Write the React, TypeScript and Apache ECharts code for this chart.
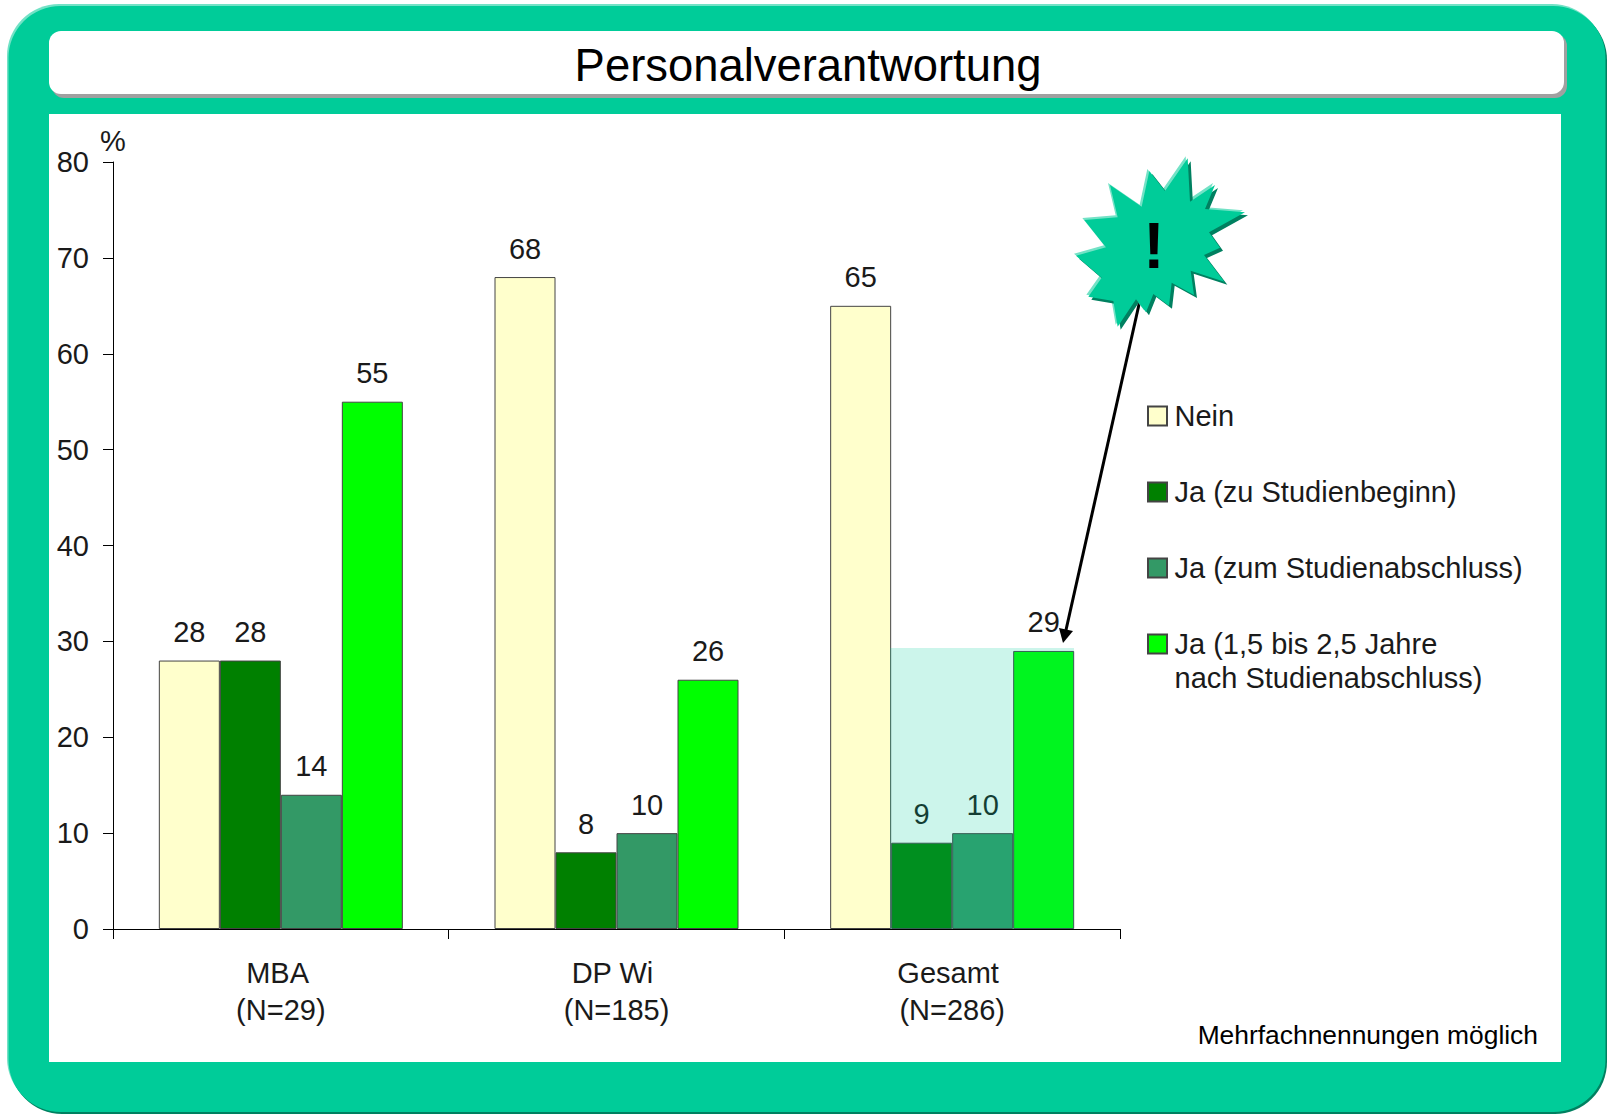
import React, { useEffect, useRef } from "react";
import * as echarts from "echarts";

const categories = ["MBA \n(N=29)", "DP Wi \n(N=185)", "Gesamt \n(N=286)"];
const nein = [28, 68, 65];
const jaBeginn = [28, 8, 9];
const jaAbschluss = [14, 10, 10];
const jaSpaeter = [55, 26, 29];
const seriesNames = [
  "Nein",
  "Ja (zu Studienbeginn)",
  "Ja (zum Studienabschluss)",
  "Ja (1,5 bis 2,5 Jahre\nnach Studienabschluss)",
];
const seriesColors = ["#ffffcc", "#008000", "#339966", "#00ff00"];
const seriesValues = [nein, jaBeginn, jaAbschluss, jaSpaeter];
const title = "Personalverantwortung";
const footnote = "Mehrfachnennungen möglich";

const FONT = '"Liberation Sans", Arial, sans-serif';
const TEAL = "#00cc99";
const INK = "#1a1a1a";

const burstZoom: number[][] = [
  [413, 55], [420, 185], [495, 135], [465, 207], [585, 217], [477, 277], [510, 323],
  [462, 345], [523, 425], [422, 392], [432, 465], [365, 428], [357, 497], [310, 462],
  [288, 517], [258, 478], [203, 560], [190, 483], [115, 470], [155, 413], [78, 347],
  [168, 322], [103, 240], [203, 232], [180, 135], [275, 200], [298, 93], [345, 153],
];
const burst = (dx: number, dy: number) =>
  burstZoom.map(([x, y]) => [1050 + x / 3 + dx, 140 + y / 3 + dy]);

const legendBase = {
  left: 1142,
  orient: "vertical",
  selectedMode: false,
  icon: "rect",
  itemWidth: 19,
  itemHeight: 19,
  itemGap: 42,
  textStyle: { fontSize: 29, lineHeight: 34, color: INK, fontFamily: FONT, padding: [0, 0, 0, 2.5] },
};

export default function App() {
  const ref = useRef<HTMLDivElement>(null);
  useEffect(() => {
    document.body.style.margin = "0";
    document.body.style.background = "#fff";
    const chart = echarts.init(ref.current!, undefined, { renderer: "svg" });
    chart.setOption({
      animation: false,
      backgroundColor: "#fff",
      textStyle: { fontFamily: FONT },
      grid: { left: 113, top: 162, width: 1007, height: 767, containLabel: false },
      xAxis: {
        type: "category",
        data: categories,
        axisLine: { lineStyle: { color: "#000", width: 1 } },
        axisTick: { show: true, length: 10, lineStyle: { color: "#000" } },
        axisLabel: {
          fontSize: 29,
          lineHeight: 37,
          color: INK,
          margin: 25,
          fontFamily: FONT,
          interval: 0,
        },
      },
      yAxis: {
        type: "value",
        min: 0,
        max: 80,
        interval: 10,
        name: "%",
        nameLocation: "end",
        nameGap: 21,
        nameTextStyle: { fontSize: 29, color: INK, fontFamily: FONT, verticalAlign: "middle" },
        splitLine: { show: false },
        axisLine: { show: true, lineStyle: { color: "#000", width: 1 } },
        axisTick: { show: true, length: 10, lineStyle: { color: "#000" } },
        axisLabel: { fontSize: 29, color: INK, margin: 24, fontFamily: FONT },
      },
      legend: [
        { ...legendBase, top: 394, data: seriesNames.slice(0, 3) },
        {
          ...legendBase,
          top: 588,
          data: seriesNames.slice(3),
          formatter: (n: string) => " \n" + n,
        },
      ],
      series: seriesNames.map((name, i) => ({
        name,
        type: "bar",
        data: seriesValues[i],
        barWidth: 61,
        barGap: "0%",
        itemStyle: { color: seriesColors[i], borderColor: "#444", borderWidth: 1 },
        label: {
          show: true,
          position: "top",
          distance: 14,
          fontSize: 29,
          color: INK,
          fontFamily: FONT,
        },
      })),
      graphic: {
        elements: [
          { type: "rect", z: -10, shape: { x: 7, y: 4, width: 1597, height: 1106, r: 52 }, style: { fill: "#73e2c6" } },
          { type: "rect", z: -9, shape: { x: 10, y: 8, width: 1597, height: 1106, r: 52 }, style: { fill: "#008060" } },
          { type: "rect", z: -8, shape: { x: 8.5, y: 6, width: 1597, height: 1106, r: 52 }, style: { fill: TEAL } },
          { type: "rect", z: -7, shape: { x: 49, y: 114, width: 1512, height: 948 }, style: { fill: "#fff" } },
          { type: "rect", z: -6, shape: { x: 52, y: 34, width: 1515, height: 64, r: 12 }, style: { fill: "#a0a0a0" } },
          { type: "rect", z: -5, shape: { x: 49, y: 31, width: 1515, height: 63, r: 12 }, style: { fill: "#fff" } },
          {
            type: "text", z: -4, x: 808, y: 65,
            style: { text: title, fontSize: 45.4, fontFamily: FONT, fill: "#000", align: "center", verticalAlign: "middle" },
          },
          {
            type: "text", z: 5, x: 1538, y: 1035,
            style: { text: footnote, fontSize: 26.4, fontFamily: FONT, fill: "#000", align: "right", verticalAlign: "middle" },
          },
          { type: "rect", z: 50, shape: { x: 890, y: 648, width: 184, height: 281 }, style: { fill: "rgba(0,204,153,0.2)" } },
          { type: "line", z: 60, shape: { x1: 1140, y1: 300, x2: 1066, y2: 630 }, style: { stroke: "#000", lineWidth: 3 } },
          { type: "polygon", z: 60, shape: { points: [[1063, 643], [1073, 631], [1059, 628]] }, style: { fill: "#000" } },
          { type: "polygon", z: 61, shape: { points: burst(-2, -2) }, style: { fill: "#73e2c6" } },
          { type: "polygon", z: 62, shape: { points: burst(3, 3) }, style: { fill: "#008060" } },
          { type: "polygon", z: 63, shape: { points: burst(0, 0) }, style: { fill: TEAL } },
          {
            type: "text", z: 64, x: 1154, y: 246,
            style: { text: "!", fontSize: 64, fontWeight: "bold", fontFamily: FONT, fill: "#000", align: "center", verticalAlign: "middle" },
          },
        ],
      },
    });
    return () => chart.dispose();
  }, []);
  return <div ref={ref} style={{ position: "absolute", left: 0, top: 0, width: 1607, height: 1115 }} />;
}
